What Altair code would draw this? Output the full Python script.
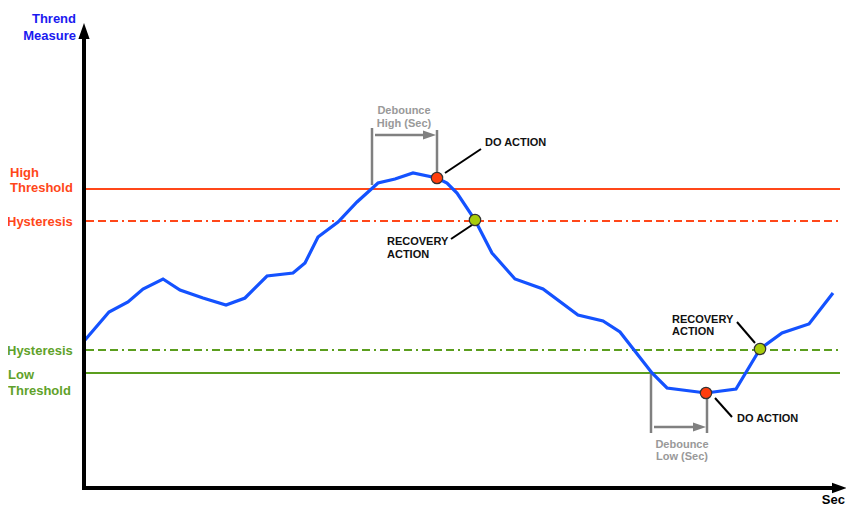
import altair as alt
import pandas as pd

# ---- data (x: seconds, y: trend measure) ----
t_sec = [0.1, 2.5, 4.4, 5.9, 7.9, 9.6, 11.9, 14.2, 16.1, 18.3, 20.9, 22.1, 23.4, 25.4, 27.3,
         29.4, 31.1, 32.9, 35.3, 36.3, 37.3, 39.1, 40.8, 43.1, 45.9, 49.4, 51.9, 53.6, 56.8,
         58.3, 62.2, 65.2, 67.6, 69.8, 72.5, 74.9]
measure = [14.8, 17.6, 18.6, 19.9, 20.9, 19.8, 19.0, 18.3, 19.0, 21.2, 21.5, 22.5, 25.1, 26.6,
           28.6, 30.5, 30.9, 31.5, 31.0, 30.5, 29.5, 26.8, 23.5, 20.9, 19.9, 17.3, 16.7, 15.6,
           11.5, 10.0, 9.5, 9.9, 13.9, 15.5, 16.4, 19.5]

high_threshold = 29.9
high_hysteresis = 26.7
low_hysteresis = 13.8
low_threshold = 11.5
line_start, line_end = 0.2, 75.6

# event points (x, y, kind)
ev_x = [35.3, 39.1, 62.2, 67.6]
ev_y = [31.0, 26.8, 9.5, 13.9]
ev_kind = ["do", "recovery", "do", "recovery"]

# debounce brackets
deb_vx = [28.8, 35.3, 56.7, 62.3]
deb_vy1 = [30.3, 31.0, 11.5, 9.5]
deb_vy2 = [36.0, 35.8, 5.5, 5.5]
deb_ax1 = [29.1, 57.0]
deb_ax2 = [34.2, 61.1]
deb_ay = [35.3, 6.1]
deb_headx = [34.55, 61.55]

# leader lines
lead_x1 = [36.1, 36.7, 63.1, 65.3]
lead_y1 = [31.5, 24.9, 9.0, 16.6]
lead_x2 = [39.7, 38.8, 64.8, 67.1]
lead_y2 = [33.9, 26.3, 7.1, 14.5]

# texts
side_text = ["High", "Threshold", "Hysteresis", "Hysteresis", "Low", "Threshold"]
side_x = [-7.4, -7.4, -7.7, -7.7, -7.6, -7.6]
side_y = [31.5, 30.0, 26.6, 13.7, 11.3, 9.7]
side_grp = ["high", "high", "high", "low", "low", "low"]

ann_text = ["DO ACTION", "RECOVERY", "ACTION", "DO ACTION", "RECOVERY", "ACTION"]
ann_x = [40.1, 30.3, 30.3, 65.3, 58.8, 58.8]
ann_y = [34.5, 24.6, 23.35, 6.9, 16.85, 15.6]

deb_text = ["Debounce", "High (Sec)", "Debounce", "Low (Sec)"]
deb_tx = [32.0, 32.0, 59.8, 59.8]
deb_ty = [37.7, 36.4, 4.35, 3.1]

ytitle = ["Thrend", "Measure"]
ytitle_y = [46.9, 45.2]

# ---- styling ----
RED = "#FF4719"
GREEN = "#5B9E1E"
BLUE = "#1452FF"
GRAY = "#808080"
FONT = "Liberation Sans"

xs = alt.Scale(domain=[-7.6, 76.2], nice=False, zero=False)
ys = alt.Scale(domain=[-1.9, 48.0], nice=False, zero=False)


def X(f):
    return alt.X(f, type="quantitative", scale=xs, axis=None)


def Y(f):
    return alt.Y(f, type="quantitative", scale=ys, axis=None)


thr = pd.DataFrame({
    "x": [line_start] * 4, "x2": [line_end] * 4,
    "y": [high_threshold, high_hysteresis, low_hysteresis, low_threshold],
    "c": [RED, RED, GREEN, GREEN],
    "kind": ["solid", "dash", "dash", "solid"],
})

solid = alt.Chart(thr[thr.kind == "solid"]).mark_rule(strokeWidth=2).encode(
    x=X("x"), x2="x2", y=Y("y"), color=alt.Color("c:N", scale=None))
dashed = alt.Chart(thr[thr.kind == "dash"]).mark_rule(
    strokeWidth=2, strokeDash=[8, 4, 8, 4, 8, 4, 2, 4]).encode(
    x=X("x"), x2="x2", y=Y("y"), color=alt.Color("c:N", scale=None))

deb_v = alt.Chart(pd.DataFrame({"x": deb_vx, "y": deb_vy1, "y2": deb_vy2})).mark_rule(
    strokeWidth=2.5, color=GRAY).encode(x=X("x"), y=Y("y"), y2="y2")
deb_a = alt.Chart(pd.DataFrame({"x": deb_ax1, "x2": deb_ax2, "y": deb_ay})).mark_rule(
    strokeWidth=2.5, color=GRAY).encode(x=X("x"), x2="x2", y=Y("y"))
deb_h = alt.Chart(pd.DataFrame({"x": deb_headx, "y": deb_ay})).mark_point(
    shape="M-1,-0.7L1,0L-1,0.7Z", filled=True, opacity=1, color=GRAY, size=169).encode(
    x=X("x"), y=Y("y"))

leaders = alt.Chart(pd.DataFrame({"x": lead_x1, "y": lead_y1, "x2": lead_x2, "y2": lead_y2})).mark_rule(
    strokeWidth=2, color="black").encode(x=X("x"), y=Y("y"), x2="x2", y2="y2")

trend = alt.Chart(pd.DataFrame({"t": t_sec, "m": measure})).mark_line(
    strokeWidth=3.2, color=BLUE).encode(x=X("t"), y=Y("m"), order="t:Q")

dots = alt.Chart(pd.DataFrame({
    "x": ev_x, "y": ev_y,
    "c": ["#FF3D0D" if k == "do" else "#A8CC0A" for k in ev_kind]})).mark_point(
    shape="circle", filled=True, opacity=1, size=130, stroke="#333333", strokeWidth=1.2).encode(
    x=X("x"), y=Y("y"), fill=alt.Fill("c:N", scale=None))

# axes
ax_y = alt.Chart(pd.DataFrame({"x": [0.0], "y": [-0.2], "y2": [45.2]})).mark_rule(
    strokeWidth=4, color="black").encode(x=X("x"), y=Y("y"), y2="y2")
ax_x = alt.Chart(pd.DataFrame({"x": [-0.2], "x2": [74.9], "y": [0.0]})).mark_rule(
    strokeWidth=4, color="black").encode(x=X("x"), x2="x2", y=Y("y"))
head_y = alt.Chart(pd.DataFrame({"x": [0.0], "y": [45.7]})).mark_point(
    shape="M-0.7,1L0,-1L0.7,1Z", filled=True, opacity=1, color="black", size=256).encode(
    x=X("x"), y=Y("y"))
head_x = alt.Chart(pd.DataFrame({"x": [75.55], "y": [0.0]})).mark_point(
    shape="M-1,-0.7L1,0L-1,0.7Z", filled=True, opacity=1, color="black", size=225).encode(
    x=X("x"), y=Y("y"))

# texts
t_ytitle = alt.Chart(pd.DataFrame({"x": [-0.8] * 2, "y": ytitle_y, "s": ytitle})).mark_text(
    align="right", baseline="middle", font=FONT, fontWeight="bold", fontSize=13,
    color="#1A1AF0").encode(x=X("x"), y=Y("y"), text="s:N")
t_xtitle = alt.Chart(pd.DataFrame({"x": [76.1], "y": [-1.2], "s": ["Sec"]})).mark_text(
    align="right", baseline="middle", font=FONT, fontWeight="bold", fontSize=13,
    color="black").encode(x=X("x"), y=Y("y"), text="s:N")
t_side = alt.Chart(pd.DataFrame({
    "x": side_x, "y": side_y, "s": side_text,
    "c": [RED if g == "high" else "#5FA22A" for g in side_grp]})).mark_text(
    align="left", baseline="middle", font=FONT, fontWeight="bold", fontSize=13).encode(
    x=X("x"), y=Y("y"), text="s:N", color=alt.Color("c:N", scale=None))
t_ann = alt.Chart(pd.DataFrame({"x": ann_x, "y": ann_y, "s": ann_text})).mark_text(
    align="left", baseline="middle", font=FONT, fontWeight="bold", fontSize=11,
    color="#111111").encode(x=X("x"), y=Y("y"), text="s:N")
t_deb = alt.Chart(pd.DataFrame({"x": deb_tx, "y": deb_ty, "s": deb_text})).mark_text(
    align="center", baseline="middle", font=FONT, fontWeight="bold", fontSize=11,
    color="#999999").encode(x=X("x"), y=Y("y"), text="s:N")

chart = alt.layer(
    solid, dashed, deb_v, deb_a, deb_h, leaders, trend, dots,
    ax_y, ax_x, head_y, head_x,
    t_ytitle, t_xtitle, t_side, t_ann, t_deb,
).properties(
    width=838, height=499, padding=0, autosize=alt.AutoSizeParams(type="none"),
    background="white",
).configure_view(stroke=None)

chart.save("out.html", embed_options={"renderer": "svg", "actions": False})
